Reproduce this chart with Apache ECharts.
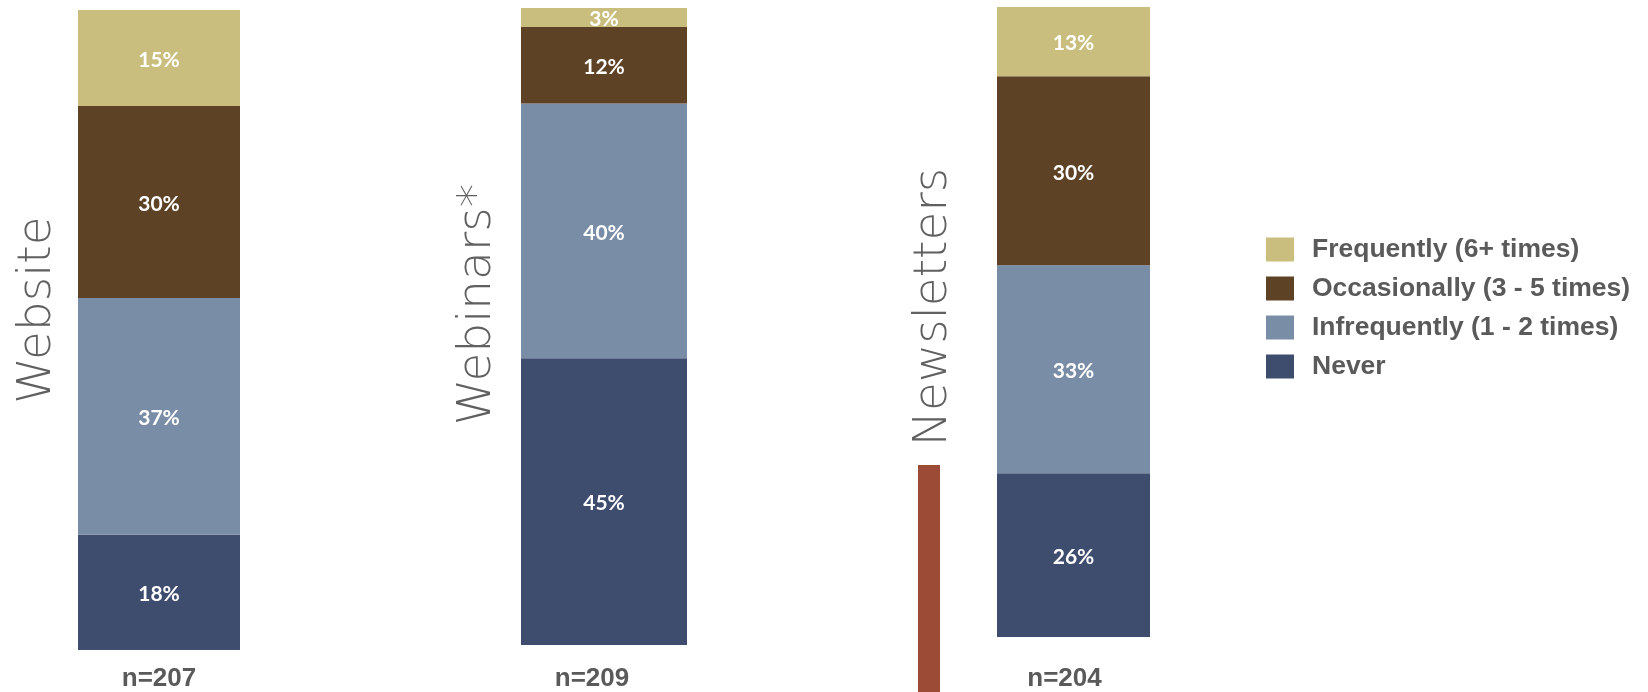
<!DOCTYPE html>
<html>
<head>
<meta charset="utf-8">
<script src="https://cdn.jsdelivr.net/npm/echarts@6/dist/echarts.min.js"></script>
<style>
html,body{margin:0;padding:0;background:#fff;}
#chart{width:1648px;height:692px;}
</style>
</head>
<body>
<div id="chart"></div>
<script>
const categories = ['Website', 'Webinars*', 'Newsletters'];
const sampleSizes = ['n=207', 'n=209', 'n=204'];
const legendOrder = ['Frequently (6+ times)', 'Occasionally (3 - 5 times)', 'Infrequently (1 - 2 times)', 'Never'];
const seriesNames = ['Never', 'Infrequently (1 - 2 times)', 'Occasionally (3 - 5 times)', 'Frequently (6+ times)'];
const never = [18, 45, 26];
const infrequently = [37, 40, 33];
const occasionally = [30, 12, 30];
const frequently = [15, 3, 13];

const seriesValues = [never, infrequently, occasionally, frequently];
const colors = ['#3E4C6E', '#7A8DA6', '#5D4225', '#C9BE7E'];

// layout per panel
const grids = [
  { left: 78, width: 162, top: 10, height: 640 },
  { left: 521, width: 166, top: 8, height: 637 },
  { left: 997, width: 153, top: 7, height: 630 }
];
const nameGaps = [17, 20, 40];
const namePads = [40, 44, 30];
const labelMargins = [16, 21, 29];
const labelShift = [0, 24, 18];

const chart = echarts.init(document.getElementById('chart'));

const xAxes = [], yAxes = [], series = [];
categories.forEach((cat, i) => {
  xAxes.push({
    type: 'category', gridIndex: i, data: [sampleSizes[i]],
    axisLine: { show: false }, axisTick: { show: false },
    axisLabel: {
      margin: labelMargins[i], fontSize: 26, fontWeight: 'bold', color: '#5A5A5A',
      fontFamily: 'Liberation Sans, Arial, sans-serif',
      padding: [0, labelShift[i], 0, 0]
    }
  });
  yAxes.push({
    type: 'value', gridIndex: i, min: 0, max: 100,
    axisLine: { show: false }, axisTick: { show: false },
    axisLabel: { show: false }, splitLine: { show: false },
    name: cat, nameLocation: 'middle', nameRotate: 90, nameGap: nameGaps[i],
    nameTextStyle: {
      fontSize: 47, fontWeight: 200, color: '#606060',
      fontFamily: 'DejaVu Sans, sans-serif',
      padding: [0, 0, 0, namePads[i]]
    }
  });
  seriesNames.forEach((name, k) => {
    series.push({
      type: 'bar', name: name, xAxisIndex: i, yAxisIndex: i, stack: 'panel' + i,
      data: [seriesValues[k][i]], barWidth: '100%', clip: true,
      itemStyle: { color: colors[k] },
      label: {
        show: true, position: 'inside', formatter: '{c}%',
        color: '#FFFFFF', fontSize: 21, fontWeight: 'bold',
        fontFamily: 'Lato, Open Sans, sans-serif',
        offset: [0, 2]
      },
      emphasis: { disabled: true }
    });
  });
});

chart.setOption({
  animation: false,
  backgroundColor: '#ffffff',
  grid: grids.map(g => Object.assign({ containLabel: false }, g)),
  xAxis: xAxes,
  yAxis: yAxes,
  legend: {
    data: legendOrder,
    orient: 'vertical', left: 1266, top: 236, padding: 0,
    itemWidth: 28, itemHeight: 24, itemGap: 12, icon: 'rect',
    textStyle: {
      fontSize: 26.5, fontWeight: 'bold', color: '#5A5A5A',
      fontFamily: 'Liberation Sans, Arial, sans-serif',
      padding: [0, 0, 0, 13]
    },
    selectedMode: false
  },
  graphic: [
    { type: 'rect', shape: { x: 918, y: 465, width: 22, height: 227 }, style: { fill: '#9B4B36' }, silent: true }
  ],
  series: series
});
</script>
</body>
</html>
